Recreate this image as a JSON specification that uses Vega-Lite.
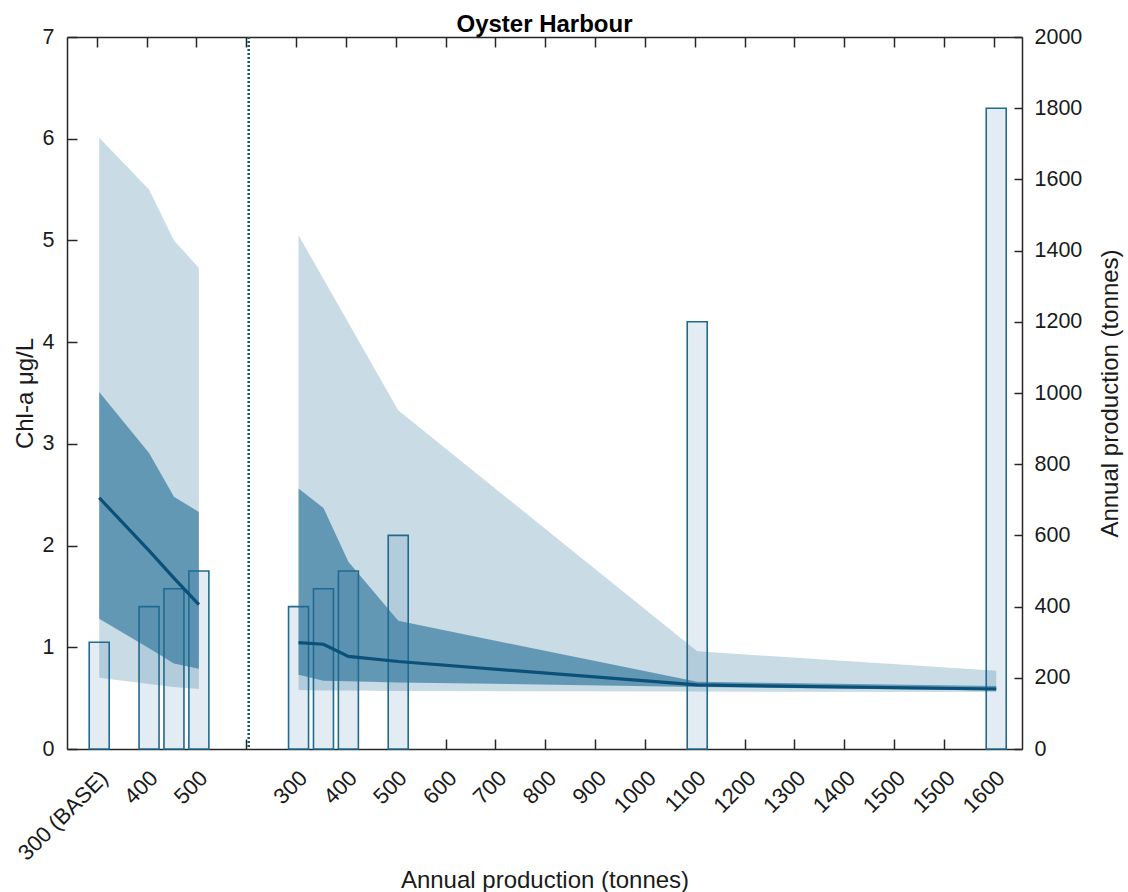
{
  "$schema": "https://vega.github.io/schema/vega-lite/v6.json",
  "autosize": {"type": "none"},
  "padding": {"left": 67, "top": 37, "right": 106, "bottom": 143},
  "width": 955,
  "height": 712,
  "background": "white",
  "config": {
    "font": "Liberation Sans",
    "view": {"stroke": null},
    "axis": {
      "labelFont": "Liberation Sans",
      "titleFont": "Liberation Sans",
      "labelFontSize": 21.5,
      "titleFontSize": 24,
      "titleFontWeight": "normal",
      "labelColor": "#1a1a1a",
      "titleColor": "#1a1a1a",
      "domainColor": "#262626",
      "tickColor": "#262626",
      "domainWidth": 1.5,
      "tickWidth": 1.5,
      "grid": false
    }
  },
  "title": {
    "text": "Oyster Harbour",
    "font": "Liberation Sans",
    "fontSize": 24,
    "fontWeight": "bold",
    "color": "#000000",
    "anchor": "middle",
    "baseline": "alphabetic",
    "offset": 6,
    "dy": 35.5
  },
  "datasets": {
    "production": [
      {"step": 0, "scenario": "300 (BASE)", "tonnes": 300},
      {"step": 1, "scenario": "400", "tonnes": 400},
      {"step": 1.5, "scenario": "450", "tonnes": 450},
      {"step": 2, "scenario": "500", "tonnes": 500},
      {"step": 4, "scenario": "300", "tonnes": 400},
      {"step": 4.5, "scenario": "350", "tonnes": 450},
      {"step": 5, "scenario": "400", "tonnes": 500},
      {"step": 6, "scenario": "500", "tonnes": 600},
      {"step": 12, "scenario": "1100", "tonnes": 1200},
      {"step": 18, "scenario": "1600", "tonnes": 1800}
    ],
    "chla": [
      {"group": "base", "step": 0, "lo95": 0.70, "lo50": 1.28, "med": 2.47, "hi50": 3.51, "hi95": 6.01},
      {"group": "base", "step": 1, "lo95": 0.64, "lo50": 0.99, "med": 1.95, "hi50": 2.91, "hi95": 5.50},
      {"group": "base", "step": 1.5, "lo95": 0.61, "lo50": 0.84, "med": 1.68, "hi50": 2.48, "hi95": 5.00},
      {"group": "base", "step": 2, "lo95": 0.59, "lo50": 0.79, "med": 1.42, "hi50": 2.33, "hi95": 4.73},
      {"group": "expansion", "step": 4, "lo95": 0.58, "lo50": 0.73, "med": 1.045, "hi50": 2.56, "hi95": 5.05},
      {"group": "expansion", "step": 4.5, "lo95": 0.575, "lo50": 0.67, "med": 1.03, "hi50": 2.37, "hi95": 4.62},
      {"group": "expansion", "step": 5, "lo95": 0.575, "lo50": 0.665, "med": 0.91, "hi50": 1.84, "hi95": 4.19},
      {"group": "expansion", "step": 6, "lo95": 0.57, "lo50": 0.655, "med": 0.86, "hi50": 1.26, "hi95": 3.33},
      {"group": "expansion", "step": 12, "lo95": 0.565, "lo50": 0.61, "med": 0.63, "hi50": 0.66, "hi95": 0.96},
      {"group": "expansion", "step": 18, "lo95": 0.56, "lo50": 0.575, "med": 0.59, "hi50": 0.62, "hi95": 0.77}
    ],
    "divider": [{"step": 3}]
  },
  "layer": [
    {
      "data": {"name": "production"},
      "mark": {"type": "bar", "width": 20, "fill": "#e3ebf3", "stroke": "#226a8e", "strokeWidth": 1.6},
      "encoding": {
        "x": {
          "field": "step",
          "type": "quantitative",
          "scale": {"domain": [-0.546, 18.417], "nice": false, "zero": false},
          "axis": {
            "orient": "bottom",
            "values": [0, 1, 2, 3, 4, 5, 6, 7, 8, 9, 10, 11, 12, 13, 14, 15, 16, 17, 18],
            "labelExpr": "['300 (BASE)','400','500','','300','400','500','600','700','800','900','1000','1100','1200','1300','1400','1500','1500','1600'][datum.value]",
            "labelAngle": -45,
            "labelAlign": "right",
            "labelBaseline": "top",
            "labelFontSize": 22,
            "labelPadding": 28,
            "tickSize": -10,
            "tickOffset": -2.5,
            "labelFlush": false,
            "labelOverlap": false,
            "title": "Annual production (tonnes)",
            "titleY": 131,
            "titleBaseline": "middle"
          }
        },
        "y": {
          "field": "tonnes",
          "type": "quantitative",
          "scale": {"domain": [0, 2000], "nice": false},
          "axis": {
            "orient": "right",
            "values": [0, 200, 400, 600, 800, 1000, 1200, 1400, 1600, 1800, 2000],
            "format": "d",
            "tickSize": -8,
            "labelPadding": 20,
            "title": "Annual production (tonnes)",
            "titleAngle": -90,
            "titleX": 88,
            "titleBaseline": "middle"
          }
        }
      }
    },
    {
      "data": {"name": "chla"},
      "mark": {"type": "area", "color": "#1f6a94", "opacity": 0.24},
      "encoding": {
        "x": {"field": "step", "type": "quantitative", "axis": null},
        "y": {
          "field": "hi95",
          "type": "quantitative",
          "scale": {"domain": [0, 7], "nice": false},
          "axis": {
            "orient": "left",
            "values": [0, 1, 2, 3, 4, 5, 6, 7],
            "tickSize": -10,
            "labelPadding": 23,
            "title": "Chl-a μg/L",
            "titleX": -42,
            "titleBaseline": "middle"
          }
        },
        "y2": {"field": "lo95"},
        "detail": {"field": "group"}
      }
    },
    {
      "data": {"name": "chla"},
      "mark": {"type": "area", "color": "#1f6a94", "opacity": 0.6},
      "encoding": {
        "x": {"field": "step", "type": "quantitative", "axis": null},
        "y": {"field": "hi50", "type": "quantitative", "scale": {"domain": [0, 7], "nice": false}, "axis": null},
        "y2": {"field": "lo50"},
        "detail": {"field": "group"}
      }
    },
    {
      "data": {"name": "chla"},
      "mark": {"type": "line", "color": "#0a5079", "strokeWidth": 3.2},
      "encoding": {
        "x": {"field": "step", "type": "quantitative", "axis": null},
        "y": {"field": "med", "type": "quantitative", "scale": {"domain": [0, 7], "nice": false}, "axis": null},
        "detail": {"field": "group"}
      }
    },
    {
      "data": {"name": "divider"},
      "mark": {"type": "rule", "color": "#17596c", "strokeWidth": 2.6, "strokeDash": [2, 2]},
      "encoding": {
        "x": {
          "field": "step",
          "type": "quantitative",
          "axis": {
            "orient": "top",
            "values": [0, 1, 2, 3, 4, 5, 6, 7, 8, 9, 10, 11, 12, 13, 14, 15, 16, 17, 18],
            "labels": false,
            "tickSize": -10,
            "tickOffset": -2.5,
            "title": null
          }
        }
      }
    }
  ],
  "resolve": {"scale": {"y": "independent"}, "axis": {"x": "independent"}}
}
